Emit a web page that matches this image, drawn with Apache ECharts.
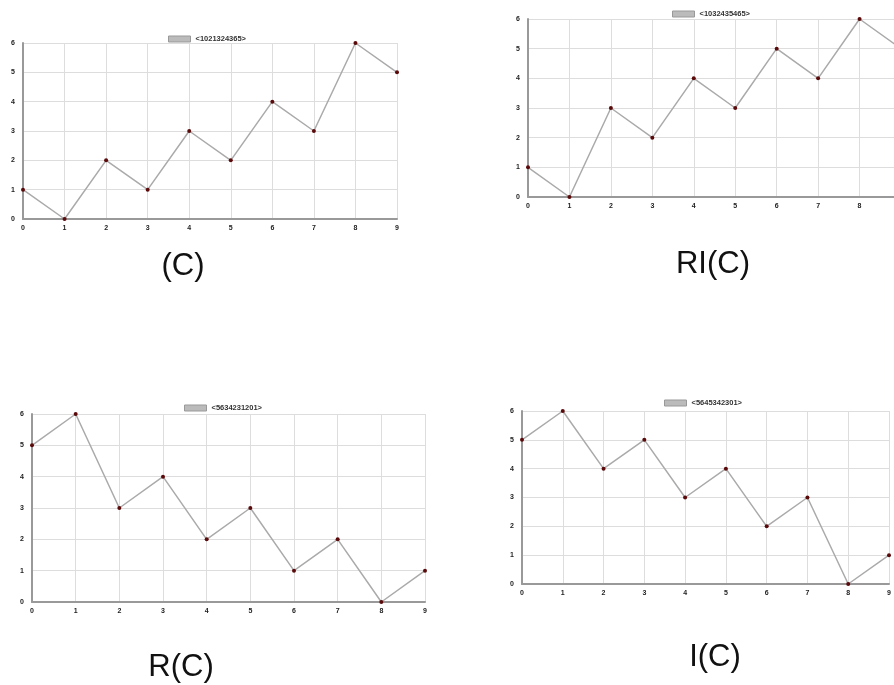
<!DOCTYPE html>
<html>
<head>
<meta charset="utf-8">
<script src="https://cdn.jsdelivr.net/npm/echarts@6/dist/echarts.min.js"></script>
<style>
  html, body { margin: 0; padding: 0; background: #fff; }
  #main { width: 894px; height: 685px; }
</style>
</head>
<body>
<div id="main"></div>
<script>
// x categories and y ticks
var xCats = ['0', '1', '2', '3', '4', '5', '6', '7', '8', '9'];
var yTicks = [0, 1, 2, 3, 4, 5, 6];

// the four sequences
var dataC   = [1, 0, 2, 1, 3, 2, 4, 3, 6, 5];
var dataRIC = [1, 0, 3, 2, 4, 3, 5, 4, 6, 5];
var dataRC  = [5, 6, 3, 4, 2, 3, 1, 2, 0, 1];
var dataIC  = [5, 6, 4, 5, 3, 4, 2, 3, 0, 1];

var names    = ['<1021324365>', '<1032435465>', '<5634231201>', '<5645342301>'];
var captions = ['(C)', 'RI(C)', 'R(C)', 'I(C)'];
var allData  = [dataC, dataRIC, dataRC, dataIC];

// layout of each panel (panel 2 runs past the right edge)
var grids = [
  { left: 23,  top: 43,  width: 374, height: 176, outerBoundsMode: 'none' },
  { left: 528, top: 19,  width: 373, height: 178, outerBoundsMode: 'none' },
  { left: 32,  top: 414, width: 393, height: 188, outerBoundsMode: 'none' },
  { left: 522, top: 411, width: 367, height: 173, outerBoundsMode: 'none' }
];
var legendPos = [
  { left: 163, top: 30 },
  { left: 667, top: 5 },
  { left: 179, top: 399 },
  { left: 659, top: 394 }
];
var capPos = [
  { x: 183, y: 266 },
  { x: 713, y: 264 },
  { x: 181, y: 667 },
  { x: 715, y: 657 }
];

var chart = echarts.init(document.getElementById('main'));

var xAxes = [], yAxes = [], series = [], legends = [], graphics = [];
for (var i = 0; i < 4; i++) {
  xAxes.push({
    gridIndex: i,
    type: 'category',
    boundaryGap: false,
    data: xCats,
    axisLine: { lineStyle: { color: '#999', width: 2 } },
    axisTick: { show: false },
    axisLabel: { fontSize: 7, fontWeight: 'bold', color: '#222', margin: 6, interval: 0 },
    splitLine: { show: true, lineStyle: { color: '#ddd', width: 1 } }
  });
  yAxes.push({
    gridIndex: i,
    type: 'value',
    min: yTicks[0],
    max: yTicks[yTicks.length - 1],
    interval: 1,
    axisLine: { show: true, lineStyle: { color: '#999', width: 2 } },
    axisTick: { show: false },
    axisLabel: { fontSize: 7, fontWeight: 'bold', color: '#222', margin: 8 },
    splitLine: { show: true, lineStyle: { color: '#ddd', width: 1 } }
  });
  series.push({
    name: names[i],
    type: 'line',
    xAxisIndex: i,
    yAxisIndex: i,
    data: allData[i],
    symbol: 'circle',
    symbolSize: 4,
    lineStyle: { color: '#aaa', width: 1.5 },
    itemStyle: { color: '#5a0a0a' },
    animation: false
  });
  legends.push({
    left: legendPos[i].left,
    top: legendPos[i].top,
    data: [{ name: names[i], itemStyle: { color: '#bbb', borderColor: '#999', borderWidth: 1 } }],
    icon: 'rect',
    itemWidth: 22,
    itemHeight: 6,
    itemGap: 4,
    textStyle: { fontSize: 7.5, fontWeight: 'bold', color: '#333' }
  });
  graphics.push({
    type: 'text',
    x: capPos[i].x,
    y: capPos[i].y,
    style: {
      text: captions[i],
      fontSize: 31,
      fontFamily: 'Liberation Sans, Arial, sans-serif',
      fill: '#111',
      textAlign: 'center',
      textVerticalAlign: 'middle'
    }
  });
}

chart.setOption({
  backgroundColor: '#fff',
  animation: false,
  grid: grids,
  xAxis: xAxes,
  yAxis: yAxes,
  legend: legends,
  series: series,
  graphic: graphics
});
</script>
</body>
</html>
